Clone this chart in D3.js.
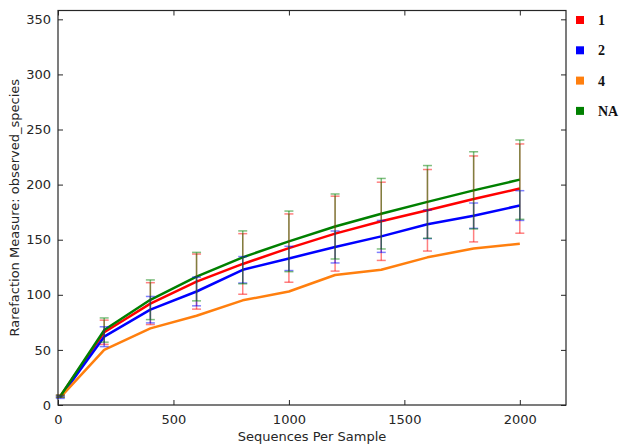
<!DOCTYPE html>
<html><head><meta charset="utf-8">
<script src="https://cdn.jsdelivr.net/npm/d3@7"></script>
<style>
html,body{margin:0;padding:0;background:#fff;}
svg{display:block;font-family:"DejaVu Sans",sans-serif;}
</style></head>
<body><svg id="chart" width="624" height="448"></svg>
<script>
const seqs = [10, 200, 400, 600, 800, 1000, 1200, 1400, 1600, 1800, 2000];
const seriesNames = ["1", "2", "4", "NA"];
const seriesColors = ["#ff0000", "#0000ff", "#ff7f0e", "#008000"];
const mean1 = [8, 66, 92, 112, 128, 142.4, 155.5, 166.7, 176.7, 187, 196.4];
const err1  = [1, 11, 19, 25, 27.5, 31, 34, 35.5, 37, 39, 40.5];
const mean2 = [7, 62, 86.5, 103, 122.7, 133, 143.4, 153, 164, 171.8, 181];
const err2  = [1, 9, 12, 13, 12, 11, 14.5, 14.5, 13, 11.5, 13.5];
const mean4 = [7, 50, 69.5, 81, 95, 103, 118, 122.7, 134, 142, 146.4];
const err4  = [0, 0, 0, 0, 0, 0, 0, 0, 0, 0, 0];
const meanNA = [8, 68, 95.5, 116.5, 134, 148.5, 162, 173.6, 184.3, 194.8, 204.5];
const errNA  = [1, 11, 18, 22, 24, 27.5, 29.5, 32, 33, 35, 36];
const xTicks = [0, 500, 1000, 1500, 2000];
const yTicks = [0, 50, 100, 150, 200, 250, 300, 350];
const xDomain = [0, 2200];
const yDomain = [0, 358];

const means = [mean1, mean2, mean4, meanNA];
const errs = [err1, err2, err4, errNA];

const svg = d3.select("#chart");
const m = {l: 58, r: 566, t: 10.5, b: 405};
const x = d3.scaleLinear().domain(xDomain).range([m.l, m.r]);
const y = d3.scaleLinear().domain(yDomain).range([m.b, m.t]);
const ink = "#262626";

// lines
const line = d3.line().x((d, i) => x(seqs[i])).y(d => y(d));
means.forEach((s, k) => {
  svg.append("path").datum(s).attr("d", line)
    .attr("fill", "none").attr("stroke", seriesColors[k])
    .attr("stroke-width", 2.5).attr("stroke-linejoin", "round");
});
// error bars
means.forEach((s, k) => {
  const g = svg.append("g").attr("stroke", seriesColors[k])
    .attr("stroke-opacity", 0.5).attr("stroke-width", 1.5);
  s.forEach((v, i) => {
    const e = errs[k][i];
    if (!e) return;
    const cx = x(seqs[i]);
    g.append("line").attr("x1", cx).attr("x2", cx).attr("y1", y(v - e)).attr("y2", y(v + e));
    [v - e, v + e].forEach(t => g.append("line").attr("x1", cx - 4.5).attr("x2", cx + 4.5).attr("y1", y(t)).attr("y2", y(t)));
  });
});

// frame
svg.append("rect").attr("x", m.l).attr("y", m.t).attr("width", m.r - m.l).attr("height", m.b - m.t)
  .attr("fill", "none").attr("stroke", ink).attr("stroke-width", 1.2);

// axes (inward ticks)
const gx = svg.append("g").attr("transform", `translate(0,${m.b})`)
  .call(d3.axisBottom(x).tickValues(xTicks).tickSize(-5).tickPadding(10).tickFormat(d3.format("d")));
const gxt = svg.append("g").attr("transform", `translate(0,${m.t})`)
  .call(d3.axisTop(x).tickValues(xTicks).tickSize(-5).tickFormat(""));
const gy = svg.append("g").attr("transform", `translate(${m.l},0)`)
  .call(d3.axisLeft(y).tickValues(yTicks).tickSize(-5).tickPadding(7).tickFormat(d3.format("d")));
const gyr = svg.append("g").attr("transform", `translate(${m.r},0)`)
  .call(d3.axisRight(y).tickValues(yTicks).tickSize(-5).tickFormat(""));
[gx, gxt, gy, gyr].forEach(g => {
  g.select(".domain").remove();
  g.selectAll("line").attr("stroke", ink).attr("stroke-width", 1);
  g.selectAll("text").attr("fill", ink).style("font-family", "DejaVu Sans").style("font-size", "13px");
});

svg.append("text").attr("x", (m.l + m.r) / 2).attr("y", 441).attr("text-anchor", "middle")
  .attr("fill", ink).style("font-size", "13px").text("Sequences Per Sample");
svg.append("text").attr("transform", `translate(19,${(m.t + m.b) / 2}) rotate(-90)`)
  .attr("text-anchor", "middle").attr("fill", ink).style("font-size", "13px")
  .text("Rarefaction Measure: observed_species");

// legend
const lg = svg.append("g");
seriesNames.forEach((n, k) => {
  const cy = 20 + k * 30.3;
  lg.append("rect").attr("x", 576).attr("y", cy - 4).attr("width", 8).attr("height", 8).attr("fill", seriesColors[k]);
  lg.append("text").attr("x", 598).attr("y", cy + 5).attr("fill", "#111")
    .style("font-family", "'Liberation Serif', 'DejaVu Serif', serif").style("font-weight", "bold").style("font-size", "14px")
    .text(n);
});
</script></body></html>
